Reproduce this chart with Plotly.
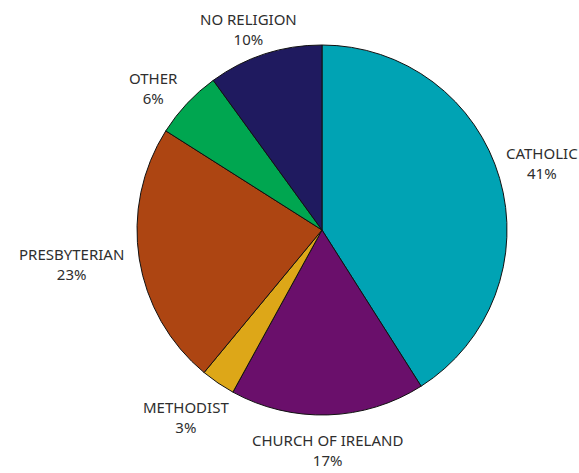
import math
import plotly.graph_objects as go

labels = ["CATHOLIC", "CHURCH OF IRELAND", "METHODIST", "PRESBYTERIAN", "OTHER", "NO RELIGION"]
shares = [41, 17, 3, 23, 6, 10]
colors = ["#00A3B4", "#6A0F6B", "#DDA718", "#AD4512", "#00A650", "#1F1A5F"]

W, H = 579, 473
# pie placement in pixels
CX, CY, R = 322, 230, 185
FONT_SIZE = 15
GAP = 10
# small hand nudges (px) for label legibility
NUDGE = {
    "CATHOLIC": (1, -2),
    "CHURCH OF IRELAND": (-1, 6),
    "METHODIST": (-13, 6),
    "PRESBYTERIAN": (-6, -5),
    "OTHER": (-6, 11),
    "NO RELIGION": (-7, 4),
}

fig = go.Figure(go.Pie(
    labels=labels,
    values=shares,
    sort=False,
    direction="clockwise",
    rotation=0,
    marker=dict(colors=colors, line=dict(color="#111111", width=1)),
    textinfo="none",
    hoverinfo="label+percent",
    showlegend=False,
    domain=dict(x=[(CX - R) / W, (CX + R) / W], y=[1 - (CY + R) / H, 1 - (CY - R) / H]),
))

# outside labels, placed along each slice's mid-angle just beyond the rim
total = sum(shares)
cum = 0
for lab, val in zip(labels, shares):
    mid = (cum + val / 2) / total * 2 * math.pi
    cum += val
    ux, uy = math.sin(mid), -math.cos(mid)
    hw = max(len(lab), 3) * FONT_SIZE * 0.58 / 2
    hh = FONT_SIZE * 1.3
    t = min(hw / abs(ux) if abs(ux) > 1e-6 else 1e9, hh / abs(uy) if abs(uy) > 1e-6 else 1e9)
    d = R + GAP + t
    nx, ny = NUDGE.get(lab, (0, 0))
    px, py = CX + ux * d + nx, CY + uy * d + ny
    px = min(px, W - hw - 2)
    fig.add_annotation(
        x=px / W, y=1 - py / H, xref="paper", yref="paper",
        text=f"{lab}<br>{val}%", showarrow=False,
        xanchor="center", yanchor="middle",
        font=dict(family="Noto Sans", size=FONT_SIZE, color="#2e2e2e"),
    )

fig.update_layout(
    width=W,
    height=H,
    margin=dict(l=0, r=0, t=0, b=0),
    paper_bgcolor="white",
    plot_bgcolor="white",
)

fig.write_html("out.html")
